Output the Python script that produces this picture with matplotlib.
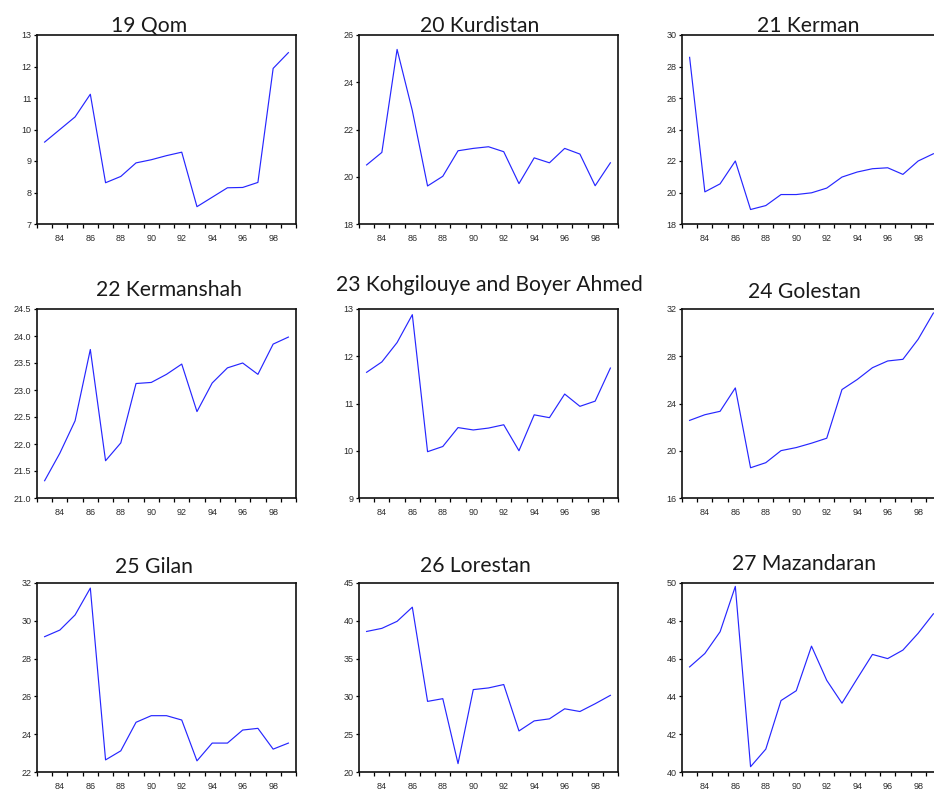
import matplotlib

matplotlib.use("Agg")
import matplotlib.pyplot as plt  # noqa: E402
import numpy as np  # noqa: E402
from matplotlib.ticker import FixedLocator, FormatStrFormatter, MultipleLocator  # noqa: E402

# data (years 1383-1399, shown as 83..99)
years = np.arange(83, 100)

qom = [9.60, 10.00, 10.40, 11.12, 8.31, 8.51, 8.94, 9.04, 9.17, 9.28,
       7.55, 7.85, 8.15, 8.16, 8.32, 11.94, 12.44]
kurdistan = [20.50, 21.03, 25.39, 22.80, 19.61, 20.02, 21.10, 21.20, 21.27, 21.06,
             19.71, 20.80, 20.59, 21.20, 20.96, 19.62, 20.59]
kerman = [28.58, 20.04, 20.55, 22.00, 18.92, 19.17, 19.87, 19.87, 19.98, 20.28,
          20.98, 21.30, 21.51, 21.57, 21.15, 22.00, 22.46]
kermanshah = [21.32, 21.83, 22.43, 23.75, 21.69, 22.02, 23.12, 23.14, 23.29, 23.48,
              22.60, 23.13, 23.41, 23.50, 23.29, 23.85, 23.98]
kohgilouye = [11.66, 11.88, 12.29, 12.88, 9.98, 10.09, 10.49, 10.44, 10.48, 10.55,
              10.00, 10.76, 10.70, 11.20, 10.94, 11.05, 11.75]
golestan = [22.57, 23.05, 23.34, 25.32, 18.56, 18.99, 20.01, 20.27, 20.64, 21.06,
            25.18, 26.03, 27.03, 27.60, 27.74, 29.44, 31.66]
gilan = [29.16, 29.51, 30.31, 31.73, 22.64, 23.12, 24.63, 24.98, 24.98, 24.75,
         22.59, 23.53, 23.53, 24.22, 24.31, 23.21, 23.53]
lorestan = [38.59, 39.00, 39.93, 41.80, 29.34, 29.70, 21.11, 30.90, 31.12, 31.57,
            25.43, 26.76, 27.03, 28.36, 28.00, 29.03, 30.14]
mazandaran = [45.56, 46.27, 47.42, 49.82, 40.28, 41.21, 43.78, 44.30, 46.66, 44.85,
              43.64, 44.94, 46.22, 46.00, 46.45, 47.34, 48.37]

titles = ["19 Qom", "20 Kurdistan", "21 Kerman",
          "22 Kermanshah", "23 Kohgilouye and Boyer Ahmed", "24 Golestan",
          "25 Gilan", "26 Lorestan", "27 Mazandaran"]
series = [qom, kurdistan, kerman, kermanshah, kohgilouye, golestan,
          gilan, lorestan, mazandaran]
y_limits = [(7, 13), (18, 26), (18, 30), (21.0, 24.5), (9, 13), (16, 32),
            (22, 32), (20, 45), (40, 50)]
y_steps = [1, 2, 2, 0.5, 1, 4, 2, 5, 2]
y_formats = ["%d", "%d", "%d", "%.1f", "%d", "%d", "%d", "%d", "%d"]

# layout in pixels of the 934x791 canvas
W, H = 934, 791
col_left = [37, 359, 682]
row_top = [35, 309, 583]
ax_w, ax_h = 259, 189
title_pos = [(149, 32), (480, 32), (808, 32),
             (169, 296), (489, 291), (804, 298),
             (154, 573), (475, 572), (804, 570)]

tick_font = ["Liberation Sans", "DejaVu Sans"]
title_font = ["Lato", "DejaVu Sans"]

fig = plt.figure(figsize=(W / 100, H / 100), dpi=100)
fig.patch.set_facecolor("white")

for i, (title, vals) in enumerate(zip(titles, series)):
    r, c = divmod(i, 3)
    left = col_left[c] / W
    bottom = 1 - (row_top[r] + ax_h) / H
    ax = fig.add_axes([left, bottom, ax_w / W, ax_h / H])
    ax.plot(years, vals, color="#2626ff", lw=0.85)

    ax.set_xlim(82.5, 99.5)
    ax.set_ylim(*y_limits[i])
    ax.xaxis.set_major_locator(FixedLocator(np.arange(84, 99, 2)))
    ax.xaxis.set_minor_locator(FixedLocator(np.arange(82.5, 100, 1.0)))
    ax.yaxis.set_major_locator(MultipleLocator(y_steps[i]))
    ax.yaxis.set_major_formatter(FormatStrFormatter(y_formats[i]))

    ax.tick_params(axis="x", which="major", length=0, pad=7)
    ax.tick_params(axis="x", which="minor", length=2.8, width=0.9, direction="out")
    ax.tick_params(axis="y", which="major", length=2.5, width=0.9, pad=1.5)
    ax.tick_params(labelsize=6.5, labelcolor="#2a2a2a")
    for lab in ax.get_xticklabels() + ax.get_yticklabels():
        lab.set_family(tick_font)

    for sp in ax.spines.values():
        sp.set_linewidth(1.2)
        sp.set_color("#111111")

    cx, base = title_pos[i]
    fig.text(cx / W, 1 - base / H, title, ha="center", va="baseline",
             fontsize=15.2, color="#1a1a1a", family=title_font)

fig.savefig("out.png", dpi=100, facecolor="white")
